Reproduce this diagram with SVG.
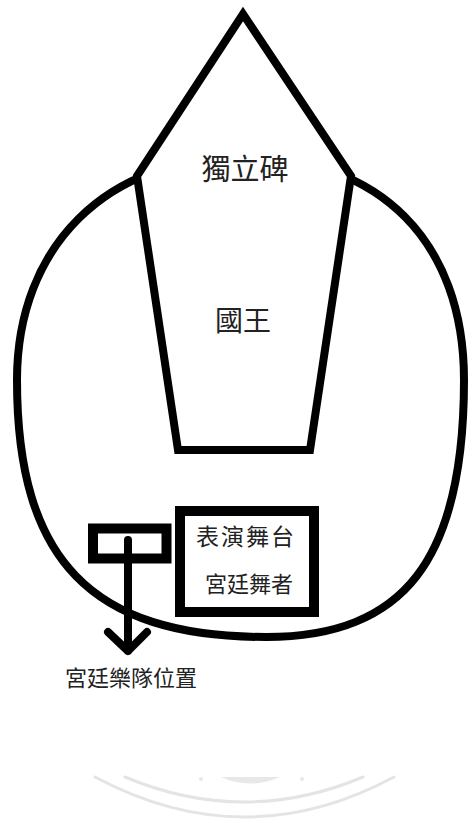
<svg xmlns="http://www.w3.org/2000/svg" width="469" height="820" viewBox="0 0 469 820">
<style>
.ln{fill:none;stroke:#000;stroke-width:8;stroke-linejoin:miter;stroke-miterlimit:10}
.box{fill:none;stroke:#000;stroke-width:10}
.t{font-family:"Noto Sans CJK TC","Noto Sans CJK SC",sans-serif;fill:#222;text-anchor:middle}
.wm{fill:none;stroke:#e4e4e4;stroke-width:3;stroke-linecap:round}
</style>
<rect width="469" height="820" fill="#fff"/>
<g id="watermark">
<path class="wm" d="M95,777 Q245,857 394,777"/>
<path class="wm" d="M125,777 Q244,827 363,777"/>
<path d="M221,777 Q250,790 280,777 Z" fill="#e8e8e8"/>
<circle cx="201" cy="779" r="2" fill="#e8e8e8"/>
<circle cx="302" cy="779" r="2" fill="#e8e8e8"/>
</g>
<g id="arena">
<path class="ln" d="M17,380 C17,246 107,157 243,157 C380,157 464,242 464,380 C464,560 404,637 266,637 C91,637 17,560 17,380 Z"/>
</g>
<g id="monument">
<path d="M243,14 L351,176 L310,450 L178,450 L137,176 Z" fill="#fff" stroke="#000" stroke-width="8" stroke-linejoin="miter" stroke-miterlimit="10"/>
<text class="t" x="245" y="180" font-size="29">獨立碑</text>
</g>
<g id="king">
<text class="t" x="243" y="331" font-size="28">國王</text>
</g>
<g id="stage">
<rect class="box" x="180" y="511" width="134" height="101"/>
<text class="t" x="246" y="545" font-size="23" letter-spacing="2">表演舞台</text>
<text class="t" x="249" y="592" font-size="22">宮廷舞者</text>
</g>
<g id="orchestra">
<rect class="box" x="93" y="528.5" width="73.5" height="30" stroke-width="9.5"/>
<text class="t" x="131" y="686" font-size="22">宮廷樂隊位置</text>
</g>
<g id="connectors">
<path d="M128,540 L128,651 M108,632 L128,651 L147,632" fill="none" stroke="#000" stroke-width="8" stroke-linecap="round" stroke-linejoin="round"/>
</g>
</svg>
